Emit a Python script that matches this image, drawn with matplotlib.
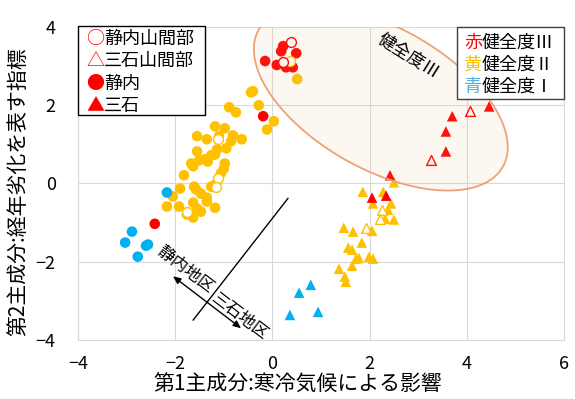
import numpy as np
import matplotlib.pyplot as plt
from matplotlib.patches import Rectangle, Polygon

plt.rcParams['font.family'] = ['Noto Sans CJK JP', 'DejaVu Sans']

RED = '#FF0000'
YELLOW = '#FFC000'
BLUE = '#00B0F0'

# 静内 (solid circles)
shiz_red_x = [0.22, 0.18, 0.49, -0.15, 0.09, 0.28, 0.42, -0.19, -2.42]
shiz_red_y = [3.51, 3.38, 3.33, 3.13, 3.03, 2.97, 2.97, 1.72, -1.03]
shiz_yel_x = [-0.44, -0.40, -0.28, 0.03, -0.11, -0.89, -0.75, -1.18, -0.98, -1.55,
              -1.35, -1.10, -0.81, -0.63, -0.85, -1.14, -0.95, -1.55, -1.26, -1.18,
              -1.39, -1.51, -1.67, -1.63, -1.33, -0.98, -1.00, -1.06, -1.82, -1.61,
              -1.57, -1.47, -1.35, -1.26, -1.18, -2.05, -1.90, -2.17, -1.92, -1.63,
              -1.55, -1.47, -1.76, -1.63, -1.18, -1.35, 0.51]
shiz_yel_y = [2.33, 2.36, 2.00, 1.59, 1.38, 1.95, 1.82, 1.46, 1.41, 1.21,
              1.13, 1.21, 1.23, 1.13, 1.08, 0.87, 0.90, 0.82, 0.72, 0.74,
              0.62, 0.59, 0.51, 0.44, 0.56, 0.51, 0.38, 0.26, 0.21, -0.08,
              -0.15, -0.26, -0.36, -0.08, -0.03, -0.33, -0.13, -0.59, -0.59, -0.49,
              -0.64, -0.72, -0.79, -0.87, -0.62, -0.46, 2.67]
shiz_blue_x = [-2.17, -2.89, -3.03, -2.60, -2.56, -2.77]
shiz_blue_y = [-0.23, -1.23, -1.51, -1.59, -1.56, -1.87]

# 静内山間部 (open circles)
shizm_red_x = [0.38, 0.22]
shizm_red_y = [3.62, 3.10]
shizm_yel_x = [-1.12, -1.12, -1.16, -1.76, 0.36]
shizm_yel_y = [1.13, 0.13, -0.08, -0.72, 3.13]

# 三石 (solid triangles)
mits_red_x = [2.42, 2.05, 2.34, 4.46, 3.70, 3.57, 3.57]
mits_red_y = [0.21, -0.36, -0.31, 1.97, 1.72, 1.33, 0.82]
mits_yel_x = [2.50, 1.86, 2.28, 2.07, 2.44, 2.38, 2.32, 2.50, 1.47, 1.66,
              2.05, 1.84, 1.56, 1.64, 1.78, 1.99, 2.07, 1.72, 1.64, 1.37,
              1.49, 1.51]
mits_yel_y = [0.03, -0.21, -0.21, -0.51, -0.51, -0.67, -0.90, -0.92, -1.13, -1.23,
              -1.21, -1.51, -1.64, -1.69, -1.90, -1.87, -1.92, -1.92, -2.10, -2.18,
              -2.38, -2.51]
mits_blue_x = [0.79, 0.55, 0.94, 0.36]
mits_blue_y = [-2.59, -2.79, -3.28, -3.36]

# 三石山間部 (open triangles)
mitsm_red_x = [4.07, 3.26]
mitsm_red_y = [1.85, 0.59]
mitsm_yel_x = [2.26, 2.21, 1.93]
mitsm_yel_y = [-0.67, -0.90, -1.13]

W, H = 575, 399
fig = plt.figure(figsize=(W / 100, H / 100), dpi=100)
ax = fig.add_axes([78 / W, 1 - 340 / H, 486 / W, 313 / H])


def fx(px):
    return px / W


def fy(py):
    return 1 - py / H


ms = 58
for x, y, c in [(shiz_yel_x, shiz_yel_y, YELLOW), (shiz_red_x, shiz_red_y, RED),
                (shiz_blue_x, shiz_blue_y, BLUE)]:
    ax.scatter(x, y, s=ms, marker='o', color=c, edgecolors='none', zorder=3)
for x, y, c in [(shizm_yel_x, shizm_yel_y, YELLOW), (shizm_red_x, shizm_red_y, RED)]:
    ax.scatter(x, y, s=ms - 8, marker='o', facecolors='white', edgecolors=c,
               linewidths=1.0, zorder=3)
for x, y, c in [(mits_yel_x, mits_yel_y, YELLOW), (mits_red_x, mits_red_y, RED),
                (mits_blue_x, mits_blue_y, BLUE)]:
    ax.scatter(x, y, s=ms, marker='^', color=c, edgecolors='none', zorder=3)
for x, y, c in [(mitsm_yel_x, mitsm_yel_y, YELLOW), (mitsm_red_x, mitsm_red_y, RED)]:
    ax.scatter(x, y, s=ms - 8, marker='^', facecolors='white', edgecolors=c,
               linewidths=1.0, zorder=3)

ax.set_xlim(-4, 6)
ax.set_ylim(-4, 4)
ax.set_xticks(np.arange(-4, 7, 2))
ax.set_yticks(np.arange(-4, 5, 2))
ax.grid(True, color='#D9D9D9', lw=0.8)
ax.set_axisbelow(True)
for s in ax.spines.values():
    s.set_color('#D9D9D9')
    s.set_linewidth(0.8)
ax.tick_params(axis='both', length=0, labelsize=13)
ax.tick_params(axis='y', pad=16)
ax.tick_params(axis='x', pad=11)

# ellipse around 健全度III (shape defined in pixels, converted to data)
ppx = 486 / 10
ppy = 313 / 8
ell_cx, ell_cy = 2.23, 2.18
ell_a, ell_b, ell_ang = 140, 71, np.radians(-29.3)
t = np.linspace(0, 2 * np.pi, 300)
ex = ell_a * np.cos(t) * np.cos(ell_ang) - ell_b * np.sin(t) * np.sin(ell_ang)
ey = ell_a * np.cos(t) * np.sin(ell_ang) + ell_b * np.sin(t) * np.cos(ell_ang)
pts = np.column_stack([ell_cx + ex / ppx, ell_cy + ey / ppy])
ax.add_patch(Polygon(pts, closed=True, facecolor='#F4B183', alpha=0.1,
                     edgecolor='none', zorder=4))
ax.add_patch(Polygon(pts, closed=True, facecolor='none', edgecolor='#EDA276',
                     lw=1.3, zorder=5))
ax.text(2.80, 3.24, '健全度Ⅲ', fontsize=12.5, rotation=-32, rotation_mode='anchor',
        ha='center', va='center', zorder=6)

# region arrow
ax.plot([0.32, -1.63], [-0.38, -3.49], color='black', lw=1, zorder=5)
ax.annotate('', xy=(-2.09, -2.33), xytext=(-0.60, -3.74),
            arrowprops=dict(arrowstyle='<|-|>,head_length=0.45,head_width=0.2',
                            color='black', lw=1), zorder=5)
ax.text(-1.80, -2.21, '静内地区', fontsize=12, rotation=-37.4,
        rotation_mode='anchor', ha='center', va='center', zorder=6)
ax.text(-0.67, -3.41, '三石地区', fontsize=12, rotation=-37.4,
        rotation_mode='anchor', ha='center', va='center', zorder=6)

# legend 1: symbols
leg1_syms = ['○', '△', '●', '▲']
leg1_labels = ['静内山間部', '三石山間部', '静内', '三石']
fig.patches.append(Rectangle((fx(78), fy(115)), (205 - 78) / W, 89 / H,
                             transform=fig.transFigure, facecolor='white',
                             edgecolor='black', lw=1, zorder=10))
for i, (sym, lab) in enumerate(zip(leg1_syms, leg1_labels)):
    yy = fy(39 + 22.3 * i)
    fig.text(fx(86), yy, sym, color=RED, fontsize=13, ha='left', va='center', zorder=11)
    fig.text(fx(104), yy, lab, color='black', fontsize=13, ha='left', va='center', zorder=11)

# legend 2: colour meaning
leg2_keys = ['赤', '黄', '青']
leg2_colors = [RED, YELLOW, '#45B5E0']
leg2_labels = ['健全度Ⅲ', '健全度Ⅱ', '健全度Ⅰ']
fig.patches.append(Rectangle((fx(457), fy(99)), (564 - 457) / W, 72 / H,
                             transform=fig.transFigure, facecolor='white',
                             edgecolor='#404040', lw=1, zorder=10))
for i, (k, c, lab) in enumerate(zip(leg2_keys, leg2_colors, leg2_labels)):
    yy = fy(43 + 22 * i)
    fig.text(fx(464), yy, k, color=c, fontsize=13, ha='left', va='center', zorder=11)
    fig.text(fx(482), yy, lab, color='black', fontsize=13, ha='left', va='center', zorder=11)

fig.text(fx(298), fy(385), '第1主成分:寒冷気候による影響', fontsize=15,
         ha='center', va='center')
fig.text(fx(18), fy(192), '第2主成分:経年劣化を表す指標', fontsize=15,
         ha='center', va='center', rotation=90)

fig.savefig('out.png', dpi=100)
